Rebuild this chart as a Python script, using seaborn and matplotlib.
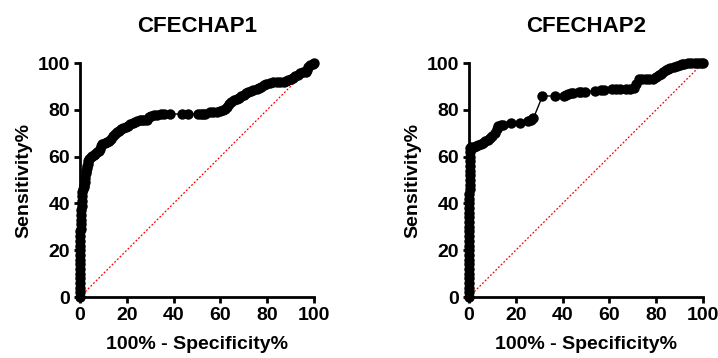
import matplotlib
matplotlib.use("Agg")
import matplotlib.pyplot as plt
import seaborn as sns
import pandas as pd

sns.set_style("ticks")
plt.rcParams['font.family'] = ['Liberation Sans', 'DejaVu Sans']
plt.rcParams['font.weight'] = 'bold'
plt.rcParams['text.color'] = 'black'
plt.rcParams['axes.labelcolor'] = 'black'
plt.rcParams['xtick.color'] = 'black'
plt.rcParams['ytick.color'] = 'black'
plt.rcParams['axes.edgecolor'] = 'black'

titles = ["CFECHAP1", "CFECHAP2"]
xlabel = "100% - Specificity%"
ylabel = "Sensitivity%"
ticks = [0, 20, 40, 60, 80, 100]

fpr1 = [0, 0, 0, 0, 0, 0, 0, 0, 0, 0, 0, 0, 0, 0, 0,
        0.5, 0.5, 0.5, 0.6, 0.6, 0.7, 0.8, 0.9, 1, 1.3, 1.5, 1.8, 2, 2.2, 2.4, 2.6, 2.8,
        3, 3.3, 3.6, 4, 4.5, 5.2, 5.9, 6.6, 7.3, 8, 8.6, 9, 9.5, 10.5, 11.5, 12.5, 13.3,
        14, 14.8, 15.6, 16.5, 17.5, 18.5, 19.5, 20.5, 21.5, 22.5, 23.5, 24.5, 25.5, 26.5,
        27.5, 28.5, 29.5, 30.5, 31.5, 33, 34.5, 36, 38.5, 43.5, 46, 50.5, 51.5, 52.5, 53.5,
        55.5, 57, 58.5, 60, 61, 62, 63, 63.8, 64.5, 66, 67, 68, 69, 70, 71, 72, 73, 74,
        75.5, 76.5, 77.5, 78.5, 79.5, 81, 82.5, 84, 85.5, 87, 88, 89, 90, 91, 92, 93, 94,
        95.5, 96.5, 97, 97.5, 98.5, 99.5, 100]
tpr1 = [0, 2, 4, 6, 8, 10, 12, 14, 16, 18, 20, 22, 24, 26, 28,
        29, 31, 33, 35, 37, 39, 41, 43, 45, 46, 47, 48, 49, 51, 53, 54, 55,
        56, 57, 58, 59, 60, 60.3, 60.7, 61.3, 61.9, 62.5, 63.2, 64.5, 65.5, 66, 66.3, 66.8, 67.5,
        69, 69.8, 70.3, 71, 71.8, 72.3, 72.7, 73.2, 73.8, 74.3, 74.7, 75.2, 75.5, 75.5,
        75.5, 75.7, 76.8, 77.5, 77.7, 77.8, 78, 78.1, 78.2, 78.2, 78.2, 78.2, 78.2, 78.2, 78.4,
        79.2, 79.2, 79.2, 79.3, 79.8, 80.3, 81, 82.3, 83.5, 84, 84.6, 85.2, 85.7, 86.3, 87, 87.7, 88.1, 88.5,
        89, 89.3, 89.8, 90.5, 91.2, 91.4, 91.7, 91.9, 92, 92, 92.4, 92.8, 93.3, 93.8, 94.4, 95, 95.8,
        96, 96, 97, 98.5, 99, 99.5, 100]

fpr2 = [0, 0, 0, 0, 0, 0, 0, 0, 0, 0, 0, 0, 0, 0, 0, 0, 0, 0, 0, 0, 0, 0, 0,
        0.3, 0.3, 0.3, 0.4, 0.4, 0.4, 0.5, 0.5, 0.5, 0.6,
        1, 2, 3, 4, 5, 6, 7, 8, 9, 10, 11, 11.8, 12.5, 13.5, 14.5, 18, 21.8, 25, 26.5, 27.5,
        31.4, 36.7, 40.5, 41.5, 42.5, 43.5, 44.5, 47, 48, 49.5, 54, 56.5, 57.5, 61, 63, 64.5,
        67, 69, 70.5, 71.5, 72.5, 74, 75.5, 77, 78.5, 80, 81, 82, 83, 84, 85, 86, 87.5, 89,
        90, 91, 92, 93.5, 95, 96.5, 98, 99, 100]
tpr2 = [0, 2, 4, 6, 8, 10, 12, 14, 16, 18, 20, 22, 24, 26, 28, 30, 32, 34, 36, 38, 40, 42, 44,
        46, 48, 50, 52, 54, 56, 58, 60, 62, 63.5,
        64, 64.3, 64.6, 65, 65.3, 65.8, 66.5, 67.2, 68, 68.8, 70, 72, 73, 73.3, 73.6, 74.5, 74.5, 75.2, 75.8, 76.3,
        85.9, 85.9, 86, 86.3, 86.7, 87, 87.2, 87.4, 87.5, 87.8, 88.2, 88.4, 88.6, 89, 89, 89,
        89, 89, 89.5, 91, 93, 93, 93, 93, 93.2, 94, 95, 95.5, 96.2, 96.8, 97.3, 97.8, 98.3, 98.6,
        99, 99.4, 99.6, 100, 100, 100, 100, 100, 100]

curves = [(fpr1, tpr1), (fpr2, tpr2)]

fig = plt.figure(figsize=(7.18, 3.58), dpi=100)
lefts = [80 / 718, 469 / 718]
for i, (fx, ty) in enumerate(curves):
    ax = fig.add_axes([lefts[i], 61 / 358, 234 / 718, 234 / 358])
    df = pd.DataFrame({"x": fx, "y": ty})
    ax.plot([0, 100], [0, 100], color="red", linestyle=(0, (1.5, 1.5)), linewidth=0.9, zorder=1)
    sns.lineplot(data=df, x="x", y="y", sort=False, ax=ax, color="black", linewidth=1,
                 marker="o", markersize=7.5, markeredgewidth=0, clip_on=False, zorder=3,
                 estimator=None)
    ax.set_xlim(0, 100)
    ax.set_ylim(0, 100)
    ax.set_xticks(ticks)
    ax.set_yticks(ticks)
    ax.set_title(titles[i], fontsize=16, fontweight="bold", pad=22)
    ax.set_xlabel(xlabel, fontsize=14, fontweight="bold", labelpad=9)
    ax.set_ylabel(ylabel, fontsize=14, fontweight="bold", labelpad=4)
    for s in ["top", "right"]:
        ax.spines[s].set_visible(False)
    for s in ["left", "bottom"]:
        ax.spines[s].set_linewidth(2)
    ax.tick_params(width=2, length=4, labelsize=14, pad=3)
    for lab in ax.get_xticklabels() + ax.get_yticklabels():
        lab.set_fontweight("bold")

fig.savefig("out.png", dpi=100)
